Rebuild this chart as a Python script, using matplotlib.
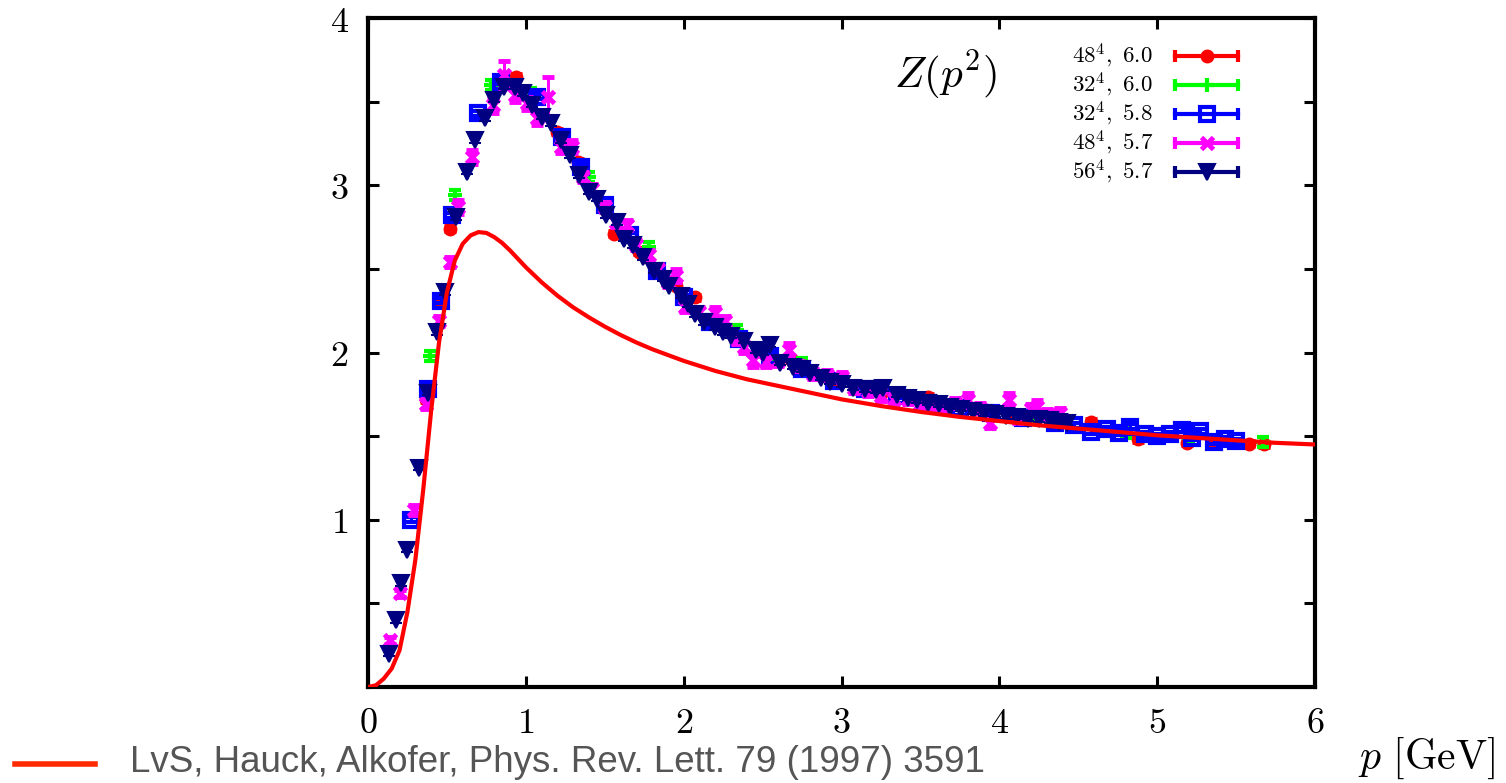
import matplotlib
matplotlib.use("Agg")
import matplotlib.pyplot as plt
from matplotlib.lines import Line2D

plt.rcParams['mathtext.fontset'] = 'cm'

# ---------------- data ----------------
# theory curve (LvS, Hauck, Alkofer)
theo_x = [0.0, 0.05, 0.1, 0.15, 0.2, 0.25, 0.3, 0.35, 0.4, 0.45, 0.5, 0.55, 0.6, 0.65, 0.7,
          0.75, 0.8, 0.85, 0.9, 0.95, 1.0, 1.1, 1.2, 1.3, 1.4, 1.5, 1.6, 1.7, 1.8, 1.9, 2.0,
          2.2, 2.4, 2.6, 2.8, 3.0, 3.25, 3.5, 3.75, 4.0, 4.25, 4.5, 4.75, 5.0, 5.25, 5.5,
          5.75, 6.0]
theo_y = [0.0, 0.01, 0.05, 0.11, 0.22, 0.45, 0.76, 1.18, 1.65, 2.06, 2.36, 2.55, 2.65, 2.70, 2.72,
          2.715, 2.69, 2.655, 2.61, 2.56, 2.51, 2.42, 2.34, 2.27, 2.21, 2.155, 2.105, 2.06, 2.02,
          1.985, 1.95, 1.89, 1.84, 1.80, 1.76, 1.72, 1.68, 1.645, 1.615, 1.59, 1.565, 1.545,
          1.525, 1.505, 1.49, 1.475, 1.46, 1.45]

# 48^4, beta=6.0
red_x = [0.37, 0.45, 0.52, 0.94, 1.20, 1.33, 1.56, 1.72, 1.95, 2.07, 2.35, 2.68, 2.95, 3.25,
         3.55, 3.85, 4.08, 4.33, 4.58, 4.88, 5.19, 5.35, 5.58, 5.68]
red_y = [1.72, 2.30, 2.74, 3.65, 3.32, 3.14, 2.71, 2.60, 2.40, 2.33, 2.10, 1.96, 1.83, 1.76,
         1.736, 1.66, 1.62, 1.59, 1.586, 1.48, 1.46, 1.47, 1.455, 1.45]
red_err = 0.02

# 32^4, beta=6.0
green_x = [0.39, 0.55, 0.78, 1.03, 1.40, 1.78, 2.34, 2.55, 2.75, 3.10, 3.60, 4.20, 4.80, 5.20, 5.67]
green_y = [1.98, 2.94, 3.60, 3.55, 3.05, 2.63, 2.135, 1.985, 1.935, 1.78, 1.68, 1.60, 1.52, 1.49, 1.467]
green_err = 0.03

# 32^4, beta=5.8
blue_x = [0.27, 0.38, 0.46, 0.53, 0.70, 0.84, 1.07, 1.23, 1.35, 1.50, 1.66, 1.83, 2.00, 2.17,
          2.35, 2.55, 2.75, 2.95, 3.15, 3.35, 3.55, 3.75, 3.95, 4.15, 4.35, 4.47, 4.58, 4.68,
          4.76, 4.83, 4.92, 5.00, 5.08, 5.16, 5.22, 5.27, 5.36, 5.43, 5.50]
blue_y = [1.00, 1.78, 2.31, 2.82, 3.43, 3.62, 3.53, 3.29, 3.11, 2.88, 2.70, 2.49, 2.33, 2.18,
          2.08, 1.98, 1.90, 1.83, 1.78, 1.74, 1.70, 1.67, 1.64, 1.61, 1.58, 1.566, 1.527, 1.54,
          1.52, 1.556, 1.51, 1.50, 1.51, 1.537, 1.49, 1.53, 1.467, 1.48, 1.47]
blue_err = 0.015

# 48^4, beta=5.7
mag_x = [0.14, 0.20, 0.29, 0.37, 0.45, 0.52, 0.57, 0.66, 0.79, 0.86, 0.93, 1.01, 1.07, 1.14,
         1.22, 1.29, 1.36, 1.42, 1.50, 1.57, 1.64, 1.70, 1.78, 1.84, 1.90, 1.95, 2.01, 2.10,
         2.20, 2.26, 2.34, 2.38, 2.44, 2.52, 2.60, 2.67, 2.73, 2.82, 2.91, 3.00, 3.08, 3.17,
         3.25, 3.33, 3.42, 3.50, 3.58, 3.65, 3.72, 3.80, 3.88, 3.94, 4.06, 4.12, 4.20, 4.24,
         4.30, 4.385]
mag_y = [0.28, 0.56, 1.06, 1.69, 2.19, 2.54, 2.87, 3.17, 3.48, 3.66, 3.54, 3.49, 3.40, 3.53,
         3.23, 3.23, 3.05, 2.98, 2.87, 2.78, 2.76, 2.64, 2.58, 2.50, 2.42, 2.46, 2.27, 2.24,
         2.235, 2.19, 2.08, 2.03, 1.955, 1.945, 1.95, 2.015, 1.92, 1.87, 1.865, 1.855, 1.79, 1.77,
         1.74, 1.72, 1.72, 1.69, 1.68, 1.67, 1.70, 1.716, 1.67, 1.58, 1.716, 1.61, 1.66, 1.676,
         1.63, 1.64]
mag_err = [0.02, 0.02, 0.03, 0.03, 0.03, 0.03, 0.04, 0.04, 0.05, 0.08, 0.04, 0.04, 0.04, 0.12,
           0.04, 0.04, 0.03, 0.03, 0.03, 0.03, 0.03, 0.03, 0.03, 0.03, 0.03, 0.04, 0.03, 0.03,
           0.04, 0.03, 0.03, 0.03, 0.04, 0.03, 0.03, 0.04, 0.03, 0.03, 0.03, 0.03, 0.03, 0.03,
           0.03, 0.03, 0.03, 0.03, 0.03, 0.03, 0.03, 0.04, 0.03, 0.03, 0.04, 0.03, 0.03, 0.04,
           0.03, 0.03]

# 56^4, beta=5.7
navy_x = [0.13, 0.18, 0.21, 0.25, 0.32, 0.38, 0.44, 0.49, 0.56, 0.63, 0.68, 0.74, 0.80, 0.86,
          0.93, 0.98, 1.04, 1.10, 1.16, 1.22, 1.28, 1.34, 1.40, 1.45, 1.51, 1.58, 1.62, 1.68,
          1.74, 1.81, 1.87, 1.91, 1.98, 2.03, 2.07, 2.13, 2.20, 2.25, 2.30, 2.38, 2.46, 2.50,
          2.55, 2.61, 2.69, 2.75, 2.80, 2.87, 2.93, 3.00, 3.07, 3.15, 3.22, 3.26, 3.35, 3.42,
          3.48, 3.55, 3.62, 3.69, 3.76, 3.83, 3.90, 3.97, 4.04, 4.11, 4.18, 4.25, 4.32, 4.38, 4.43]
navy_y = [0.20, 0.40, 0.62, 0.82, 1.31, 1.76, 2.12, 2.36, 2.81, 3.08, 3.27, 3.40, 3.51, 3.59,
          3.59, 3.55, 3.48, 3.41, 3.37, 3.27, 3.18, 3.06, 2.96, 2.92, 2.82, 2.78, 2.68, 2.64,
          2.57, 2.49, 2.44, 2.40, 2.34, 2.29, 2.23, 2.18, 2.15, 2.12, 2.10, 2.07, 2.015, 2.00,
          2.045, 1.94, 1.915, 1.90, 1.88, 1.85, 1.825, 1.81, 1.79, 1.78, 1.775, 1.785, 1.746, 1.73,
          1.715, 1.70, 1.69, 1.676, 1.665, 1.65, 1.637, 1.63, 1.62, 1.615, 1.605, 1.60, 1.595,
          1.585, 1.58]
navy_err = 0.015

series_labels = [r'$48^4,\ 6.0$', r'$32^4,\ 6.0$', r'$32^4,\ 5.8$', r'$48^4,\ 5.7$', r'$56^4,\ 5.7$']
theory_label = 'LvS, Hauck, Alkofer, Phys. Rev. Lett. 79 (1997) 3591'
x_ticks = [0, 1, 2, 3, 4, 5, 6]
y_ticks = [1, 2, 3, 4]

# ---------------- figure ----------------
W, H = 1506, 783
fig = plt.figure(figsize=(W / 100, H / 100), dpi=100)
ax = fig.add_axes([368 / W, 1 - 687 / H, (1315 - 368) / W, (687 - 18) / H])

styles = [
    dict(color='#ff0000', marker='o', ms=8, mfc='#ff0000', mew=2),
    dict(color='#00ff00', marker='+', ms=10, mfc='#00ff00', mew=3),
    dict(color='#0000ff', marker='s', ms=10, mfc='none', mew=3),
    dict(color='#ff00ff', marker='x', ms=9, mfc='#ff00ff', mew=3.5),
    dict(color='#000080', marker='v', ms=12, mfc='#000080', mew=1.5),
]
data = [(red_x, red_y, red_err), (green_x, green_y, green_err), (blue_x, blue_y, blue_err),
        (mag_x, mag_y, mag_err), (navy_x, navy_y, navy_err)]

for i, ((xs, ys, es), st) in enumerate(zip(data, styles)):
    ax.errorbar(xs, ys, yerr=es, fmt=st['marker'], color=st['color'], ms=st['ms'],
                mfc=st['mfc'], mec=st['color'], mew=st['mew'], elinewidth=2.2,
                capsize=4, capthick=2.2, zorder=3 + i)

ax.plot(theo_x, theo_y, color='#ff0000', lw=3, zorder=10, solid_joinstyle='round')

ax.set_xlim(0, 6)
ax.set_ylim(0, 4)
ax.set_xticks(x_ticks)
ax.set_xticklabels([f'${v}$' for v in x_ticks], fontsize=26)
ax.set_yticks(y_ticks)
ax.set_yticks([0.5, 1.5, 2.5, 3.5], minor=True)
ax.set_yticklabels([f'${v}$' for v in y_ticks], fontsize=26)
ax.tick_params(which='both', direction='in', length=8, width=2.2, top=True, right=True, pad=14)
for sp in ax.spines.values():
    sp.set_linewidth(3)

# in-plot text
ax.text(0.555, 0.915, r'$Z(p^2)$', transform=ax.transAxes, fontsize=31, ha='left', va='center')

# legend (gnuplot style: text right aligned, then sample with caps and marker)
row_y = [56, 85, 114, 143, 172]
x_text, x1, x2 = 1153, 1175, 1238
for lab, st, ry in zip(series_labels, styles, row_y):
    yf = 1 - ry / H
    fig.text(x_text / W, yf, lab, fontsize=16.5, ha='right', va='center')
    fig.add_artist(Line2D([x1 / W, x2 / W], [yf, yf], color=st['color'], lw=3,
                          marker='|', ms=9, mew=3, transform=fig.transFigure))
    fig.add_artist(Line2D([(x1 + x2) / 2 / W], [yf], color=st['color'], marker=st['marker'],
                          ms=st['ms'], mfc=st['mfc'], mec=st['color'], mew=st['mew'],
                          transform=fig.transFigure))

# axis label
fig.text(1358 / W, 1 - 758 / H, r'$p\ [\mathrm{GeV}]$', fontsize=30, ha='left', va='center')

# theory legend outside axes
fig.add_artist(Line2D([15 / W, 95 / W], [1 - 764 / H, 1 - 764 / H], color='#ff2a00', lw=4,
                      transform=fig.transFigure))
fig.text(130 / W, 1 - 763 / H, theory_label, fontsize=26.5, color='#555555',
         family='Liberation Sans', ha='left', va='center')

fig.savefig('out.png', dpi=100)
